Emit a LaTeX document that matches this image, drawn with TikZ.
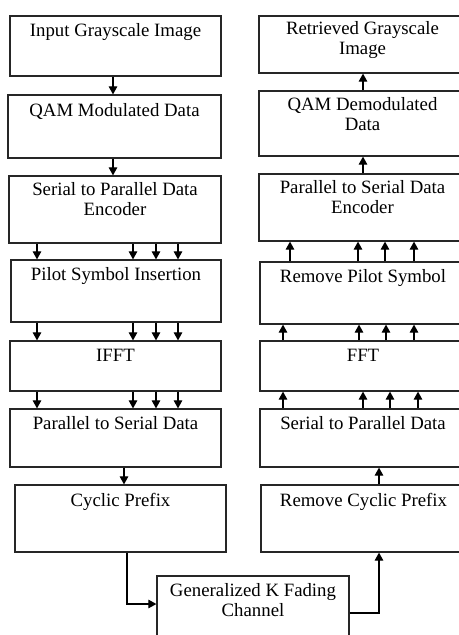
\documentclass[tikz,border=0pt]{standalone}
\usepackage{fontspec}
\setmainfont{Liberation Serif}
\usetikzlibrary{arrows.meta}
\begin{document}
\begin{tikzpicture}[x=1bp,y=-1bp,
  blk/.style={draw=black!85, line width=1.2bp, rectangle, inner sep=0pt},
  txt/.style={font=\fontsize{18.8bp}{20bp}\selectfont, align=center, inner sep=0pt, anchor=base},
  arr/.style={draw=black, line width=1.1bp, -{Triangle[width=8.5bp,length=8bp]}}]
\path[use as bounding box] (0,0) rectangle (459,635);
\clip (0,0) rectangle (459,635);
% left column
\node[blk, minimum width=211bp, minimum height=60bp] (b1) at (115.5,46) {};
\node[blk, minimum width=213bp, minimum height=63bp] (b2) at (114.5,126.5) {};
\node[blk, minimum width=212bp, minimum height=67bp] (b3) at (115,209.5) {};
\node[blk, minimum width=210bp, minimum height=62bp] (b4) at (116,291) {};
\node[blk, minimum width=211bp, minimum height=50bp] (b5) at (115.5,366) {};
\node[blk, minimum width=211bp, minimum height=58bp] (b6) at (115.5,438) {};
\node[blk, minimum width=211bp, minimum height=67bp] (b7) at (120.5,518.5) {};
\node[blk, minimum width=192bp, minimum height=80bp] (ch) at (253,616) {};
% right column
\node[blk, minimum width=207bp, minimum height=57bp] (r1) at (362.5,44.5) {};
\node[blk, minimum width=207bp, minimum height=65bp] (r2) at (362.5,123.5) {};
\node[blk, minimum width=207bp, minimum height=67bp] (r3) at (362.5,207.5) {};
\node[blk, minimum width=206bp, minimum height=62bp] (r4) at (363,293) {};
\node[blk, minimum width=206bp, minimum height=50bp] (r5) at (363,366) {};
\node[blk, minimum width=206bp, minimum height=58bp] (r6) at (363,438) {};
\node[blk, minimum width=205bp, minimum height=67bp] (r7) at (363.5,518.5) {};
% texts (base anchor = baseline of last line)
\node[txt] (t1) at ([yshift=-21bp]b1.north) {Input Grayscale Image};
\node[txt] (t2) at ([yshift=-22bp]b2.north) {QAM Modulated Data};
\node[txt] (t3) at ([yshift=-40bp]b3.north) {Serial to Parallel Data\\Encoder};
\node[txt] (t4) at ([yshift=-21bp]b4.north) {Pilot Symbol Insertion};
\node[txt] (t5) at ([yshift=-21bp]b5.north) {IFFT};
\node[txt] (t6) at ([yshift=-21bp]b6.north) {Parallel to Serial Data};
\node[txt] (t7) at ([yshift=-22bp]b7.north) {Cyclic Prefix};
\node[txt] (tc) at ([yshift=-41bp]ch.north) {Generalized K Fading\\Channel};
\node[txt] (s1) at ([yshift=-39bp]r1.north) {Retrieved Grayscale\\Image};
\node[txt] (s2) at ([yshift=-40bp]r2.north) {QAM Demodulated\\Data};
\node[txt] (s3) at ([yshift=-40bp]r3.north) {Parallel to Serial Data\\Encoder};
\node[txt] (s4) at ([yshift=-21bp]r4.north) {Remove Pilot Symbol};
\node[txt] (s5) at ([yshift=-21bp]r5.north) {FFT};
\node[txt] (s6) at ([yshift=-21bp]r6.north) {Serial to Parallel Data};
\node[txt] (s7) at ([yshift=-22bp]r7.north) {Remove Cyclic Prefix};
% left arrows
\draw[arr] (b1.south -| 113,0) -- (b2.north -| 113,0);
\draw[arr] (b2.south -| 113,0) -- (b3.north -| 113,0);
\foreach \x in {37,133,156,178} {
  \draw[arr] (b3.south -| \x,0) -- (b4.north -| \x,0);
  \draw[arr] (b4.south -| \x,0) -- (b5.north -| \x,0);
  \draw[arr] (b5.south -| \x,0) -- (b6.north -| \x,0);
}
\draw[arr] (b6.south -| 124,0) -- (b7.north -| 124,0);
\draw[arr] (b7.south -| 127,0) |- (ch.west |- 0,604);
\draw[arr] (ch.east |- 0,613) -| (r7.south -| 379,0);
% right arrows
\draw[arr] (r7.north -| 379,0) -- (r6.south -| 379,0);
\foreach \x in {283,363,390,418} \draw[arr] (r6.north -| \x,0) -- (r5.south -| \x,0);
\foreach \x in {283,359,386,414} \draw[arr] (r5.north -| \x,0) -- (r4.south -| \x,0);
\foreach \x in {290,358,385,414} \draw[arr] (r4.north -| \x,0) -- (r3.south -| \x,0);
\draw[arr] (r3.north -| 363,0) -- (r2.south -| 363,0);
\draw[arr] (r2.north -| 363,0) -- (r1.south -| 363,0);
\end{tikzpicture}
\end{document}
